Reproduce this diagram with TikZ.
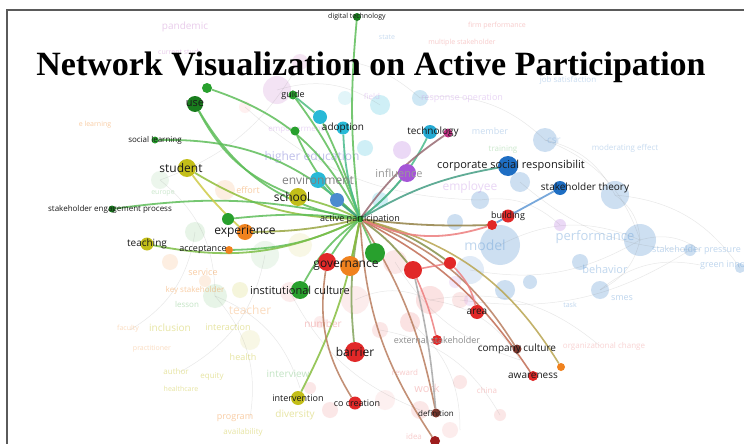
\documentclass[tikz,border=0pt]{standalone}
\usepackage{fontspec}
\setsansfont{Open Sans}
\newfontfamily\titlefont{Liberation Serif}
\usetikzlibrary{positioning}

\definecolor{vgreen}{RGB}{40,160,45}
\definecolor{vdkgreen}{RGB}{25,125,30}
\definecolor{vcyan}{RGB}{40,185,215}
\definecolor{vblue}{RGB}{30,110,195}
\definecolor{vpurple}{RGB}{165,85,215}
\definecolor{vyellow}{RGB}{195,190,25}
\definecolor{vorange}{RGB}{240,130,30}
\definecolor{vred}{RGB}{225,40,40}
\definecolor{vbrown}{RGB}{125,55,45}
\definecolor{vmagenta}{RGB}{190,50,130}
\definecolor{egreen}{RGB}{95,190,90}
\definecolor{ebrown}{RGB}{185,125,95}
\definecolor{eolive}{RGB}{185,165,80}
\definecolor{frame}{RGB}{90,90,90}

\pgfdeclarelayer{haze}
\pgfdeclarelayer{links}
\pgfsetlayers{haze,links,main}

\tikzset{
  dot/.style={circle, inner sep=0pt, minimum size=#1pt},
  kw/.style={font=\sffamily\fontsize{#1}{#1}\selectfont, text=black!90, inner sep=0pt},
  bgword/.style={font=\sffamily\fontsize{#1}{#1}\selectfont, inner sep=0pt, opacity=0.4},
  link/.style={line width=1.8pt, draw=egreen, opacity=0.85},
  rlink/.style={line width=1.6pt, draw=ebrown, opacity=0.85},
  hazeline/.style={line width=0.5pt, opacity=0.18},
}

\begin{document}
\begin{tikzpicture}[x=1pt,y=-1pt]
\useasboundingbox (0,0) rectangle (744,444);

% faint background of the map
\begin{pgfonlayer}{haze}
  \fill[white] (0,0) rectangle (744,444);
  \foreach \x/\y/\r/\c in {
    277/90/14/vpurple!60!pink, 300/62/8/vpurple!50!pink, 245/107/6/pink,
    380/105/10/vcyan, 365/148/8/vcyan, 420/98/8/vcyan!50!vblue, 402/150/9/vpurple,
    545/140/12/vblue, 520/182/10/vblue, 480/200/9/vblue, 455/222/8/vblue,
    500/245/20/vblue, 470/270/14/vblue!60, 505/290/10/vblue, 640/240/16/vblue,
    600/290/9/vblue, 580/262/8/vblue, 615/195/14/vblue, 690/250/6/vblue,
    740/268/5/vblue, 530/282/7/vblue, 560/225/6/vpurple,
    430/300/14/vred!60, 410/322/10/vred!60, 460/300/8/vred!50, 395/262/12/vred!50,
    380/330/8/vred!50, 420/410/9/vred!50, 460/382/7/vred!50, 500/415/6/vred!50,
    310/388/6/vred!50, 330/410/8/vred!50, 290/292/10/vred!40, 355/300/14/vred!40,
    320/322/6/vred!40, 450/430/8/vred!40, 385/400/10/vred!30,
    195/232/10/vgreen!50, 215/296/12/vgreen!50, 240/290/8/vyellow!70,
    170/262/8/vorange!60, 265/255/14/vgreen!40, 160/180/9/vgreen!40,
    225/190/10/vorange!60, 205/281/6/vorange!60, 250/340/10/vyellow!50,
    300/245/12/vyellow!50, 455/282/6/vpurple!60, 470/300/6/vpurple!60,
    380/200/8/vcyan, 345/98/7/vcyan!60}
    \fill[\c, opacity=0.22] (\x,\y) circle (\r pt);
  \foreach \a/\b/\c/\d in {
    615/195/640/240, 640/240/700/250, 640/240/600/290, 545/140/640/240,
    500/245/640/240, 600/290/700/265, 615/195/740/268, 545/140/615/195,
    430/300/520/360, 430/300/600/346, 380/330/500/415, 410/322/460/430,
    355/300/430/300, 215/296/300/388, 215/296/250/418, 160/180/215/296,
    195/232/130/330, 265/255/180/372, 277/90/380/105, 300/62/420/98,
    420/98/545/140, 480/200/560/225}
    \draw[hazeline, draw=gray] (\a,\b) to[bend left=25] (\c,\d);
  \foreach \a/\b/\c/\d in {
    520/182/700/250, 470/270/640/240, 395/262/520/360, 290/292/420/410,
    160/180/300/62, 245/107/480/200, 460/300/690/250}
    \draw[hazeline, draw=gray] (\a,\b) to[bend right=20] (\c,\d);

  % faint keywords
  \node[bgword=10, text=vpurple!60!pink] (w1) at (185,27) {pandemic};
  \node[bgword=7, text=vpurple!60!pink] (w2) at (180,53) {current study};
  \node[bgword=7, text=vblue!60] (w3) at (387,37) {state};
  \node[bgword=7, text=vred!60] (w4) at (497,26) {firm performance};
  \node[bgword=7, text=vred!60] (w5) at (462,43) {multiple stakeholder};
  \node[bgword=8, text=vblue!60] (w6) at (568,80) {job satisfaction};
  \node[bgword=9, text=vpurple!60] (w7) at (462,98) {response operation};
  \node[bgword=8, text=vpurple!60] (w8) at (372,96) {field};
  \node[bgword=9, text=vblue!60] (w9) at (490,131) {member};
  \node[bgword=10, text=vblue!60] (w10) at (554,141) {csr};
  \node[bgword=8, text=vgreen!60] (w11) at (503,150) {training};
  \node[bgword=8, text=vblue!60] (w12) at (625,148) {moderating effect};
  \node[bgword=12, text=vpurple!60] (w13) at (470,187) {employee};
  \node[bgword=12, text=vblue!50!vpurple] (w14) at (312,157) {higher education};
  \node[bgword=8, text=vpurple!60] (w15) at (296,130) {empowerment};
  \node[bgword=9, text=vorange] (w16) at (248,190) {effort};
  \node[bgword=7, text=vgreen!60] (w17) at (163,193) {europe};
  \node[bgword=7, text=vorange] (w18) at (95,125) {e learning};
  \node[bgword=9, text=vorange] (w19) at (203,272) {service};
  \node[bgword=8, text=vorange] (w20) at (195,290) {key stakeholder};
  \node[bgword=8, text=vgreen!70] (w21) at (187,304) {lesson};
  \node[bgword=12, text=vorange!70] (w22) at (250,310) {teacher};
  \node[bgword=7, text=vorange!70] (w23) at (128,329) {faculty};
  \node[bgword=10, text=vyellow] (w24) at (170,328) {inclusion};
  \node[bgword=9, text=vyellow] (w25) at (228,327) {interaction};
  \node[bgword=7, text=vorange!70] (w26) at (152,349) {practitioner};
  \node[bgword=9, text=vyellow] (w27) at (243,357) {health};
  \node[bgword=8, text=vyellow] (w28) at (176,371) {author};
  \node[bgword=8, text=vyellow] (w29) at (212,377) {equity};
  \node[bgword=7, text=vyellow] (w30) at (181,389) {healthcare};
  \node[bgword=10, text=vgreen!70] (w31) at (288,374) {interview};
  \node[bgword=10, text=vred!70] (w32) at (323,324) {number};
  \node[bgword=10, text=vyellow] (w33) at (295,415) {diversity};
  \node[bgword=9, text=vorange] (w34) at (235,418) {program};
  \node[bgword=8, text=vyellow] (w35) at (243,432) {availability};
  \node[bgword=14, text=vblue!70] (w36) at (485,245) {model};
  \node[bgword=13, text=vblue!70] (w37) at (595,237) {performance};
  \node[bgword=11, text=vblue!70] (w38) at (605,269) {behavior};
  \node[bgword=9, text=vblue!70, anchor=west] (w39) at (652,250) {stakeholder pressure};
  \node[bgword=9, text=vblue!70, anchor=west] (w40) at (700,265) {green innovation};
  \node[bgword=9, text=vblue!70] (w41) at (622,298) {smes};
  \node[bgword=7, text=vblue!70] (w42) at (570,305) {task};
  \node[bgword=8, text=vred!50] (w43) at (604,346) {organizational change};
  \node[bgword=8, text=vred!60] (w44) at (405,372) {reward};
  \node[bgword=11, text=vred!60] (w45) at (427,388) {work};
  \node[bgword=8, text=vred!60] (w46) at (487,390) {china};
  \node[bgword=8, text=vred!60] (w47) at (414,436) {idea};
\end{pgfonlayer}

% keyword nodes
\node[dot=7, fill=vgreen] (ap) at (360,219) {};
\node[dot=8, fill=vdkgreen] (dig) at (357,17) {};
\node[dot=16, fill=vdkgreen] (use) at (195,104) {};
\node[dot=10, fill=vgreen] (useb) at (207,88) {};
\node[dot=9, fill=vgreen] (guide) at (293,95) {};
\node[dot=14, fill=vcyan] (adopa) at (320,117) {};
\node[dot=13, fill=vcyan] (adopb) at (343,128) {};
\node[dot=9, fill=vgreen] (grn) at (295,131) {};
\node[dot=7, fill=vgreen] (soc) at (155,140) {};
\node[dot=18, fill=vyellow] (stu) at (187,168) {};
\node[dot=16, fill=vcyan] (env) at (318,180) {};
\node[dot=18, fill=vyellow] (sch) at (298,197) {};
\node[dot=14, fill=vblue!80] (blu) at (337,200) {};
\node[dot=7, fill=vdkgreen] (sep) at (112,209) {};
\node[dot=12, fill=vgreen] (grnb) at (228,219) {};
\node[dot=16, fill=vorange] (exp) at (245,232) {};
\node[dot=8, fill=vorange] (acc) at (229,250) {};
\node[dot=13, fill=vyellow] (tea) at (147,244) {};
\node[dot=18, fill=vred] (govr) at (327,262) {};
\node[dot=20, fill=vorange] (govo) at (350,266) {};
\node[dot=20, fill=vgreen] (govg) at (375,253) {};
\node[dot=18, fill=vgreen] (inst) at (300,290) {};
\node[dot=18, fill=vred] (reda) at (413,270) {};
\node[dot=12, fill=vred] (redb) at (450,263) {};
\node[dot=10, fill=vred] (bld) at (492,225) {};
\node[dot=13, fill=vred] (bldb) at (508,216) {};
\node[dot=14, fill=vblue] (sth) at (560,188) {};
\node[dot=20, fill=vblue] (csr) at (508,166) {};
\node[dot=18, fill=vpurple] (inf) at (407,173) {};
\node[dot=14, fill=vcyan!80!vblue] (tech) at (430,132) {};
\node[dot=9, fill=vmagenta] (mag) at (448,133) {};
\node[dot=14, fill=vred] (area) at (477,312) {};
\node[dot=10, fill=vred] (ext) at (437,340) {};
\node[dot=9, fill=vbrown] (comp) at (517,349) {};
\node[dot=10, fill=vred] (awa) at (533,376) {};
\node[dot=8, fill=vorange] (orng) at (561,367) {};
\node[dot=20, fill=vred] (bar) at (355,352) {};
\node[dot=14, fill=vyellow] (int) at (298,398) {};
\node[dot=13, fill=vred] (cocr) at (355,403) {};
\node[dot=9, fill=vbrown] (def) at (436,413) {};
\node[dot=10, fill=vred!70!black] (last) at (435,441) {};

% connections to active participation
\begin{pgfonlayer}{links}
  \draw[link] (ap) to[bend left=6] (dig);
  \draw[link] (ap) to[bend left=25] (use);
  \draw[link] (ap) to[bend right=22] (useb);
  \draw[link] (ap) to[bend right=8] (guide);
  \draw[link] (ap) to[bend right=4] (adopa);
  \draw[link, draw=egreen!60!vcyan] (ap) to[bend left=8] (adopb);
  \draw[link] (ap) to[bend left=12] (grn);
  \draw[link] (ap) to[bend right=22] (soc);
  \draw[link, draw=egreen!50!vyellow] (ap) to[bend left=15] (stu);
  \draw[link, draw=egreen!60!vcyan] (ap) to[bend left=5] (env);
  \draw[link, draw=egreen!60!vyellow] (ap) to[bend right=5] (sch);
  \draw[link, draw=egreen!60!vblue] (ap) to (blu);
  \draw[link] (ap) to[bend right=10] (sep);
  \draw[link] (ap) to[bend right=6] (grnb);
  \draw[link, draw=egreen!60!vorange] (ap) to[bend left=6] (exp);
  \draw[link] (ap) to[bend left=12] (acc);
  \draw[link, draw=egreen!70!vyellow] (ap) to[bend left=18] (tea);
  \draw[link] (ap) to[bend right=5] (govr);
  \draw[link, draw=egreen!70!vorange] (ap) to (govo);
  \draw[link] (ap) to (govg);
  \draw[link] (ap) to[bend right=12] (inst);
  \draw[link, draw=egreen!70!vred] (ap) to[bend left=8] (reda);
  \draw[link, draw=egreen!70!vred] (ap) to[bend left=10] (redb);
  \draw[link, draw=egreen!60!vred] (ap) to[bend right=4] (bld);
  \draw[link, draw=egreen!60!vblue] (ap) to[bend left=10] (csr);
  \draw[link, draw=egreen!60!vpurple] (ap) to[bend right=5] (inf);
  \draw[link, draw=egreen!60!vcyan] (ap) to[bend right=12] (tech);
  \draw[link, draw=egreen!40!vmagenta] (ap) to[bend left=10] (mag);
  \draw[rlink] (ap) to[bend left=18] (comp);
  \draw[rlink, draw=ebrown!80!vred] (ap) to[bend left=14] (awa);
  \draw[rlink, draw=eolive] (ap) to[bend left=22] (orng);
  \draw[link, draw=egreen!60!ebrown] (ap) to[bend right=8] (bar);
  \draw[link, draw=egreen!60!vyellow] (ap) to[bend left=8] (int);
  \draw[rlink] (ap) to[bend left=10] (def);
  \draw[rlink] (ap) to[bend right=15] (last);
  % links between other keywords
  \draw[rlink, draw=vred!60] (redb) to[bend left=15] (area);
  \draw[rlink, draw=vred!60] (reda) to[bend left=5] (ext);
  \draw[rlink, draw=vred!60] (reda) -- (redb);
  \draw[rlink, draw=gray!70] (reda) to[bend left=4] (def);
  \draw[rlink] (govr) to[bend right=20] (cocr);
  \draw[link, draw=vblue!70] (bld) -- (sth);
  \draw[link] (use) to[bend right=20] (sch);
  \draw[link, draw=vyellow!80] (stu) to[bend right=5] (exp);
  \draw[link, draw=egreen!70!vcyan] (guide) -- (adopa);
  \draw[link, draw=vred!60] (bld) to[bend left=20] (ap);
\end{pgfonlayer}

% keyword labels
\node[kw=7] (dig-t) at (dig) {digital technology};
\node[kw=11] (use-t) at (use) {use};
\node[kw=9] (guide-t) at (guide) {guide};
\node[kw=10] (adop-t) at (adopb) {adoption};
\node[kw=8] (soc-t) at (soc) {social learning};
\node[kw=12] (stu-t) at ([xshift=-6pt]stu) {student};
\node[kw=12, text=black!50] (env-t) at (env) {environment};
\node[kw=12] (sch-t) at ([xshift=-6pt]sch) {school};
\node[kw=9] (ap-t) at (ap) {active participation};
\node[kw=8] (sep-t) at ([xshift=-2pt]sep) {stakeholder engagement process};
\node[kw=12] (exp-t) at (exp) {experience};
\node[kw=9] (acc-t) at ([xshift=-26pt]acc) {acceptance};
\node[kw=10] (tea-t) at (tea) {teaching};
\node[kw=12] (gov-t) at ([xshift=-4pt]govo) {governance};
\node[kw=11] (inst-t) at (inst) {institutional culture};
\node[kw=9] (bld-t) at (bldb) {building};
\node[kw=10] (sth-t) at ([xshift=25pt]sth) {stakeholder theory};
\node[kw=11] (csr-t) at ([xshift=3pt]csr) {corporate social responsibilit};
\node[kw=11, text=black!40] (inf-t) at ([xshift=-8pt]inf) {influence};
\node[kw=10] (tech-t) at ([xshift=3pt]tech) {technology};
\node[kw=10] (area-t) at (area) {area};
\node[kw=9, text=black!45] (ext-t) at (ext) {external stakeholder};
\node[kw=10] (comp-t) at (comp) {company culture};
\node[kw=10] (awa-t) at (awa) {awareness};
\node[kw=12] (bar-t) at (bar) {barrier};
\node[kw=9] (int-t) at (int) {intervention};
\node[kw=9] (cocr-t) at ([xshift=2pt]cocr) {co creation};
\node[kw=8] (def-t) at (def) {definition};

% title and frame
\node[font=\titlefont\bfseries\fontsize{34}{34}\selectfont, anchor=base] (title) at (371,75) {Network Visualization on Active Participation};
\draw[frame, line width=2pt] (7,444) -- (7,10) -- (744,10);
\end{tikzpicture}
\end{document}
